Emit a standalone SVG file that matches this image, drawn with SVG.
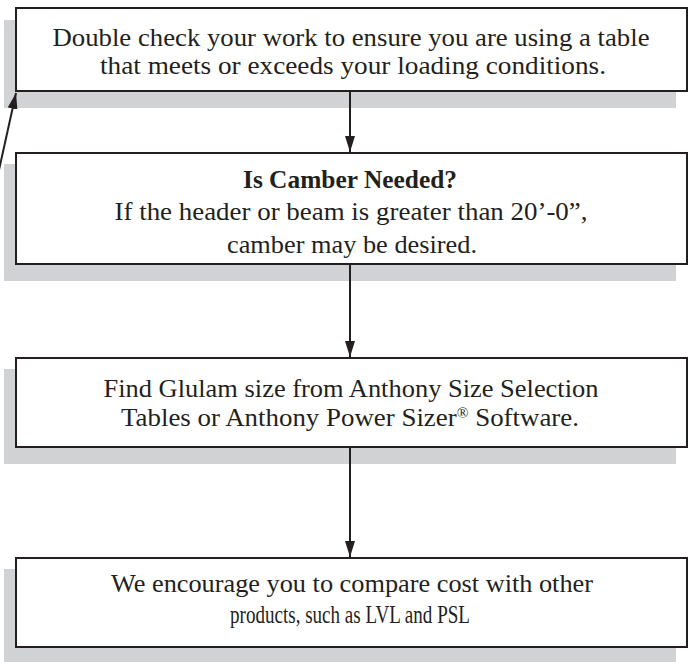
<svg xmlns="http://www.w3.org/2000/svg" width="694" height="662" viewBox="0 0 694 662">
<style>
.shadow{fill:#d1d2d4;stroke:none}
.box{fill:#ffffff;stroke:#231f20;stroke-width:2}
.t{font-family:"Liberation Serif","DejaVu Serif",serif;font-size:26px;fill:#231f20;text-anchor:middle}
.b{font-weight:bold}
.conn{stroke:#231f20;stroke-width:2;fill:none}
</style>
<defs>
<marker id="ah" markerUnits="userSpaceOnUse" markerWidth="16" markerHeight="10" refX="16" refY="5" orient="auto" viewBox="0 0 16 10">
<path d="M0,0 L16,5 L0,10 Z" fill="#231f20"/>
</marker>
</defs>
<g id="node1">
<rect class="shadow" x="4" y="20" width="672" height="88"/>
<rect class="box" x="16" y="8" width="671" height="83"/>
<text class="t" x="351" y="46" textLength="597" lengthAdjust="spacingAndGlyphs">Double check your work to ensure you are using a table</text>
<text class="t" x="353" y="74" textLength="506" lengthAdjust="spacingAndGlyphs">that meets or exceeds your loading conditions.</text>
</g>
<g id="node2">
<rect class="shadow" x="4" y="164" width="672" height="117"/>
<rect class="box" x="16" y="153" width="671" height="111"/>
<text class="t b" x="350" y="188" textLength="214" lengthAdjust="spacingAndGlyphs">Is Camber Needed?</text>
<text class="t" x="351" y="220" textLength="473" lengthAdjust="spacingAndGlyphs">If the header or beam is greater than 20’-0”,</text>
<text class="t" x="352" y="253" textLength="250" lengthAdjust="spacingAndGlyphs">camber may be desired.</text>
</g>
<g id="node3">
<rect class="shadow" x="4" y="369" width="672" height="95"/>
<rect class="box" x="16" y="358" width="671" height="89"/>
<text class="t" x="351" y="397" textLength="495" lengthAdjust="spacingAndGlyphs">Find Glulam size from Anthony Size Selection</text>
<text class="t" x="350" y="426" textLength="458" lengthAdjust="spacingAndGlyphs">Tables or Anthony Power Sizer<tspan font-size="15" baseline-shift="8">®</tspan> Software.</text>
</g>
<g id="node4">
<rect class="shadow" x="4" y="569" width="672" height="93"/>
<rect class="box" x="16" y="558" width="671" height="89"/>
<text class="t" x="352" y="592" textLength="482" lengthAdjust="spacingAndGlyphs">We encourage you to compare cost with other</text>
<text class="t" x="350" y="623" textLength="240" lengthAdjust="spacingAndGlyphs">products, such as LVL and PSL</text>
</g>
<g id="connectors">
<line class="conn" x1="350" y1="91" x2="350" y2="152" marker-end="url(#ah)"/>
<line class="conn" x1="350" y1="264" x2="350" y2="357" marker-end="url(#ah)"/>
<line class="conn" x1="350" y1="447" x2="350" y2="557" marker-end="url(#ah)"/>
<line class="conn" x1="-1" y1="170" x2="16" y2="93" marker-end="url(#ah)"/>
</g>
</svg>
